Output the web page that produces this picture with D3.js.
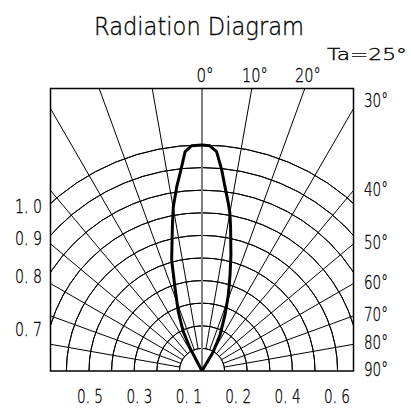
<!DOCTYPE html>
<html>
<head>
<meta charset="utf-8">
<script src="https://cdn.jsdelivr.net/npm/d3@7"></script>
<style>
    body { margin: 0; background: #fff; }
    text { font-family: "DejaVu Sans ExtraLight", "DejaVu Sans", sans-serif; font-weight: 200; fill: #000; stroke: #000; stroke-width: 0.35; }
</style>
</head>
<body>
<div id="chart"></div>
<script>
// Relative intensity vs angle (degrees, negative = left of axis)
const lobeAngles = [-32, -27.6, -25.4, -21.8, -18, -15.3, -11.6, -9.9, -7.8, -6, -4.4, -2.6, 0,
    2, 3.8, 5.6, 7.1, 8.9, 10, 11.2, 14, 16.3, 19.1, 22.3, 26.6, 30.3, 33];
const lobeValues = [0, 0.115, 0.193, 0.283, 0.386, 0.509, 0.652, 0.738, 0.823, 0.894, 0.974, 0.998, 1.0,
    0.997, 0.973, 0.894, 0.822, 0.752, 0.71, 0.651, 0.529, 0.442, 0.356, 0.268, 0.178, 0.099, 0];

// Grid
const ringValues = [0.1, 0.2, 0.3, 0.4, 0.5, 0.6, 0.7, 0.8, 0.9, 1.0];
const spokeAngles = d3.range(-80, 90, 10);

// Tick labels
const topLabels = [{ a: 0, t: "0°" }, { a: 10, t: "10°" }, { a: 20, t: "20°" }];
const rightLabels = [
    { a: 30, t: "30°" }, { a: 40, t: "40°" }, { a: 50, t: "50°" }, { a: 60, t: "60°" },
    { a: 70, t: "70°" }, { a: 80, t: "80°" }, { a: 90, t: "90°" }
];
const leftLabels = [{ v: 1.0, t: "1. 0" }, { v: 0.9, t: "0. 9" }, { v: 0.8, t: "0. 8" }, { v: 0.7, t: "0. 7" }];
const bottomLabels = ["0. 5", "0. 3", "0. 1", "0. 2", "0. 4", "0. 6"];

const width = 411, height = 408;
const cx = 202, cy = 371;
const box = { left: 50.5, right: 353.5, top: 88.5, bottom: 371 };

const r = d3.scaleLinear().domain([0, 1]).range([0, 226]);
const rad = d => d * Math.PI / 180;

const svg = d3.select("#chart").append("svg")
    .attr("width", width)
    .attr("height", height);

svg.append("rect").attr("width", width).attr("height", height).attr("fill", "#fff");

svg.append("clipPath").attr("id", "boxclip")
    .append("rect")
    .attr("x", box.left).attr("y", box.top)
    .attr("width", box.right - box.left).attr("height", box.bottom - box.top);

const plot = svg.append("g").attr("clip-path", "url(#boxclip)")
    .append("g").attr("transform", `translate(${cx},${cy})`);

// rings
const arc = d3.arc().startAngle(-Math.PI / 2).endAngle(Math.PI / 2);
plot.selectAll("path.ring")
    .data(ringValues)
    .enter().append("path")
    .attr("class", "ring")
    .attr("d", d => arc({ innerRadius: r(d), outerRadius: r(d) }))
    .attr("fill", "none")
    .attr("stroke", "#000")
    .attr("stroke-width", 1);

// spokes
const spoke = d3.lineRadial().angle(d => rad(d[0])).radius(d => d[1]);
plot.selectAll("path.spoke")
    .data(spokeAngles.filter(a => a !== 0))
    .enter().append("path")
    .attr("class", "spoke")
    .attr("d", a => spoke([[a, r(0.1)], [a, 400]]))
    .attr("fill", "none")
    .attr("stroke", "#000")
    .attr("stroke-width", 1);

// centre axis
plot.append("path")
    .attr("d", spoke([[0, 0], [0, 400]]))
    .attr("stroke", "#808080")
    .attr("stroke-width", 2);

// radiation lobe
const lobe = d3.lineRadial()
    .angle((d, i) => rad(lobeAngles[i]))
    .radius(d => r(d));
plot.append("path")
    .attr("d", lobe(lobeValues))
    .attr("fill", "none")
    .attr("stroke", "#000")
    .attr("stroke-width", 3)
    .attr("stroke-linejoin", "round");

// frame
svg.append("rect")
    .attr("x", box.left).attr("y", box.top)
    .attr("width", box.right - box.left).attr("height", box.bottom - box.top)
    .attr("fill", "none")
    .attr("stroke", "#000")
    .attr("stroke-width", 1.5);

// texts
svg.append("text")
    .attr("x", 94).attr("y", 35)
    .attr("font-size", 25)
    .attr("textLength", 210)
    .attr("lengthAdjust", "spacingAndGlyphs")
    .text("Radiation Diagram");

svg.append("text")
    .attr("x", 327).attr("y", 60)
    .attr("font-size", 16)
    .attr("textLength", 80)
    .attr("lengthAdjust", "spacingAndGlyphs")
    .text("Ta=25°");

const H = cy - box.top;
svg.selectAll("text.top")
    .data(topLabels)
    .enter().append("text")
    .attr("class", "top")
    .attr("x", d => cx + H * Math.tan(rad(d.a)) + 3)
    .attr("y", 82)
    .attr("text-anchor", "middle")
    .attr("font-size", 20)
    .attr("textLength", d => d.t.length * 8.6)
    .attr("lengthAdjust", "spacingAndGlyphs")
    .text(d => d.t);

const W = box.right - cx;
svg.selectAll("text.right")
    .data(rightLabels)
    .enter().append("text")
    .attr("class", "right")
    .attr("x", 364)
    .attr("y", d => {
        const ey = cy - W / Math.tan(rad(d.a));
        return d.a === 30 ? ey - 9 : ey - 2;
    })
    .attr("dy", "0.36em")
    .attr("font-size", 20)
    .attr("textLength", 24)
    .attr("lengthAdjust", "spacingAndGlyphs")
    .text(d => d.t);

const WL = cx - box.left;
svg.selectAll("text.left")
    .data(leftLabels)
    .enter().append("text")
    .attr("class", "left")
    .attr("x", 42)
    .attr("y", d => cy - Math.sqrt(r(d.v) * r(d.v) - WL * WL) + 3)
    .attr("dy", "0.36em")
    .attr("text-anchor", "end")
    .attr("font-size", 20)
    .attr("textLength", 27)
    .attr("lengthAdjust", "spacingAndGlyphs")
    .text(d => d.t);

const bx = d3.scalePoint().domain(bottomLabels).range([90, 337]);
svg.selectAll("text.bottom")
    .data(bottomLabels)
    .enter().append("text")
    .attr("class", "bottom")
    .attr("x", d => bx(d))
    .attr("y", 403)
    .attr("text-anchor", "middle")
    .attr("font-size", 20)
    .attr("textLength", 26)
    .attr("lengthAdjust", "spacingAndGlyphs")
    .text(d => d);
</script>
</body>
</html>
